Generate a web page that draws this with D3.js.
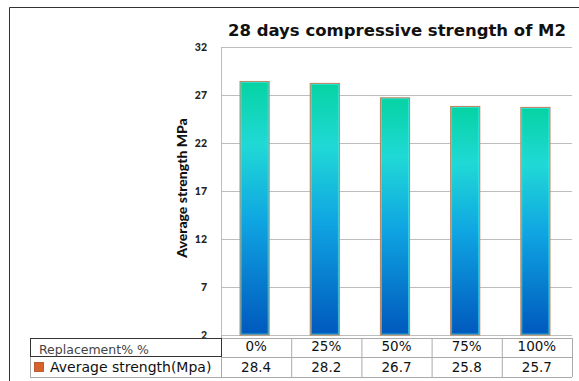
<!DOCTYPE html>
<html>
<head>
<meta charset="utf-8">
<script src="https://cdn.jsdelivr.net/npm/d3@7"></script>
<style>
  body { margin: 0; background: #fff; }
  svg { display: block; }
</style>
</head>
<body>
<div id="chart"></div>
<script>
// Données
const categories = ['0%', '25%', '50%', '75%', '100%'];
const values = [28.4, 28.2, 26.7, 25.8, 25.7];
const yTicks = [2, 7, 12, 17, 22, 27, 32];
const title = '28 days compressive strength of M2';
const yLabel = 'Average strength MPa';
const rowHeader = 'Replacement% %';
const seriesName = 'Average strength(Mpa)';

const W = 579, H = 381;
const plot = { left: 221, right: 572, top: 47, bottom: 335 };

const svg = d3.select('#chart').append('svg')
    .attr('width', W)
    .attr('height', H);

// Cadre extérieur
svg.append('path')
    .attr('d', `M9.5,${H} V7.5 H${W}`)
    .attr('fill', 'none')
    .attr('stroke', '#333')
    .attr('stroke-width', 1);

// Dégradé des barres
const grad = svg.append('defs').append('linearGradient')
    .attr('id', 'barGrad')
    .attr('x1', 0).attr('y1', 0).attr('x2', 0).attr('y2', 1);
[['0%', '#05d3a3'], ['25%', '#20d9d6'], ['55%', '#0fa5e2'], ['100%', '#0058bd']]
    .forEach(([o, c]) => grad.append('stop').attr('offset', o).attr('stop-color', c));

const x = d3.scaleBand()
    .domain(categories)
    .range([plot.left, plot.right])
    .paddingInner(0)
    .paddingOuter(0);

const y = d3.scaleLinear()
    .domain([2, 32])
    .range([plot.bottom, plot.top]);

// Quadrillage
svg.append('g')
    .selectAll('line')
    .data(yTicks)
    .join('line')
    .attr('x1', plot.left)
    .attr('x2', plot.right)
    .attr('y1', d => Math.round(y(d)) + 0.5)
    .attr('y2', d => Math.round(y(d)) + 0.5)
    .attr('stroke', '#bdbdbd');

svg.append('line')
    .attr('x1', plot.left + 0.5).attr('x2', plot.left + 0.5)
    .attr('y1', plot.top).attr('y2', plot.bottom)
    .attr('stroke', '#bdbdbd');

// Axe Y
const yAxis = svg.append('g')
    .attr('transform', `translate(${plot.left},0)`)
    .call(d3.axisLeft(y).tickValues(yTicks).tickSize(0).tickPadding(14));
yAxis.select('.domain').remove();
yAxis.selectAll('text')
    .attr('font-family', 'Lato, sans-serif')
    .attr('font-weight', 900)
    .attr('font-size', 10.5)
    .attr('fill', '#222');

// Barres
const bw = 29;
const bars = svg.append('g')
    .selectAll('g')
    .data(values)
    .join('g');

bars.append('rect')
    .attr('x', (d, i) => x(categories[i]) + x.bandwidth() / 2 - bw / 2 - 1.5)
    .attr('y', d => y(d))
    .attr('width', bw)
    .attr('height', d => y(2) - y(d))
    .attr('fill', 'url(#barGrad)')
    .attr('stroke', '#b98b68')
    .attr('stroke-width', 1.2);

bars.append('rect')
    .attr('x', (d, i) => x(categories[i]) + x.bandwidth() / 2 - bw / 2 - 0.5)
    .attr('y', d => y(d) + 1)
    .attr('width', bw - 2)
    .attr('height', d => y(2) - y(d) - 2)
    .attr('fill', 'none')
    .attr('stroke', '#3ff0ee')
    .attr('stroke-opacity', 0.7)
    .attr('stroke-width', 0.8);

// Titre
svg.append('text')
    .attr('x', 397)
    .attr('y', 36)
    .attr('text-anchor', 'middle')
    .attr('font-family', '"DejaVu Sans", sans-serif')
    .attr('font-weight', 'bold')
    .attr('font-size', 16.5)
    .attr('fill', '#111')
    .text(title);

// Titre de l'axe Y
svg.append('text')
    .attr('transform', 'translate(187,188) rotate(-90)')
    .attr('text-anchor', 'middle')
    .attr('font-family', 'Lato, sans-serif')
    .attr('font-weight', 900)
    .attr('font-size', 14)
    .attr('fill', '#111')
    .text(yLabel);

// Tableau de données
const row1 = { top: 338, bottom: 357 };
const row2 = { top: 357, bottom: 377 };
const tbl = svg.append('g');

// lignes grises
[row1.top, row1.bottom, row2.bottom].forEach(yy => {
    tbl.append('line')
        .attr('x1', plot.left).attr('x2', plot.right)
        .attr('y1', yy + 0.5).attr('y2', yy + 0.5)
        .attr('stroke', '#aaa');
});
tbl.append('line')
    .attr('x1', 30).attr('x2', plot.left)
    .attr('y1', row2.bottom + 0.5).attr('y2', row2.bottom + 0.5)
    .attr('stroke', '#aaa');
tbl.append('line')
    .attr('x1', 30.5).attr('x2', 30.5)
    .attr('y1', row2.top).attr('y2', row2.bottom)
    .attr('stroke', '#aaa');
categories.forEach(c => {
    tbl.append('line')
        .attr('x1', x(c) + x.bandwidth() + 0.5).attr('x2', x(c) + x.bandwidth() + 0.5)
        .attr('y1', row1.top).attr('y2', row2.bottom)
        .attr('stroke', '#aaa');
});
tbl.append('line')
    .attr('x1', plot.left + 0.5).attr('x2', plot.left + 0.5)
    .attr('y1', plot.bottom).attr('y2', row2.bottom)
    .attr('stroke', '#aaa');

// case d'en-tête encadrée
tbl.append('rect')
    .attr('x', 30.5).attr('y', row1.top + 0.5)
    .attr('width', plot.left - 30).attr('height', row1.bottom - row1.top - 1)
    .attr('fill', 'none')
    .attr('stroke', '#333');

tbl.append('text')
    .attr('x', 39).attr('y', 354)
    .attr('font-family', '"DejaVu Sans", sans-serif')
    .attr('font-size', 12.5)
    .attr('fill', '#444')
    .text(rowHeader);

tbl.append('rect')
    .attr('x', 34.5).attr('y', 362.5)
    .attr('width', 9).attr('height', 9)
    .attr('fill', '#d9622b')
    .attr('stroke', '#a84a20')
    .attr('stroke-width', 0.8);

tbl.append('text')
    .attr('x', 50).attr('y', 372)
    .attr('font-family', '"DejaVu Sans", sans-serif')
    .attr('font-size', 14)
    .attr('fill', '#111')
    .text(seriesName);

tbl.selectAll('.cat')
    .data(categories)
    .join('text')
    .attr('x', d => x(d) + x.bandwidth() / 2)
    .attr('y', 351)
    .attr('text-anchor', 'middle')
    .attr('font-family', '"DejaVu Sans", sans-serif')
    .attr('font-size', 13.5)
    .attr('fill', '#111')
    .text(d => d);

tbl.selectAll('.val')
    .data(values)
    .join('text')
    .attr('x', (d, i) => x(categories[i]) + x.bandwidth() / 2)
    .attr('y', 372)
    .attr('text-anchor', 'middle')
    .attr('font-family', '"DejaVu Sans", sans-serif')
    .attr('font-size', 13.5)
    .attr('fill', '#111')
    .text(d => d.toFixed(1));
</script>
</body>
</html>
